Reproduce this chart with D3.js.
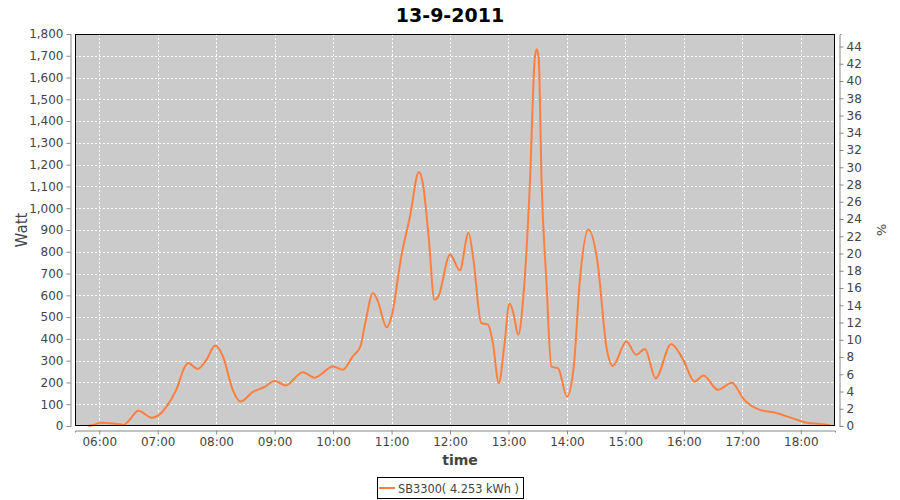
<!DOCTYPE html>
<html><head><meta charset="utf-8">
<script src="https://cdn.jsdelivr.net/npm/d3@7"></script>
<style>body{margin:0;background:#fff}svg{display:block}</style>
</head><body><svg id="c" width="900" height="500"></svg>
<script>
const times = ["05:49","05:55","06:01","06:14","06:25","06:31","06:40","06:54","07:01","07:09","07:19","07:28","07:31","07:41","07:50","07:59","08:07","08:17","08:25","08:38","08:49","09:00","09:11","09:29","09:41","10:00","10:10","10:20","10:28","10:33","10:41","10:46","10:55","11:00","11:10","11:19","11:28","11:32","11:38","11:44","11:48","12:00","12:10","12:19","12:24","12:32","12:39","12:44","12:50","12:56","13:01","13:05","13:10","13:15","13:22","13:27","13:29","13:31","13:34","13:39","13:44","13:51","14:00","14:07","14:13","14:22","14:31","14:41","14:47","15:01","15:11","15:20","15:31","15:47","15:59","16:11","16:20","16:35","16:49","17:02","17:18","17:32","17:52","18:06","18:20","18:30"];
const watts = [0,6,15,12,5,28,70,38,50,89,166,273,289,262,304,370,319,166,112,158,178,207,186,247,222,273,258,319,365,473,611,572,453,503,779,964,1166,1117,872,580,595,787,715,887,764,473,465,381,197,381,562,519,419,580,1117,1690,1730,1690,1117,657,273,265,135,273,657,902,764,350,276,388,327,354,219,377,307,204,232,166,199,120,74,63,35,15,9,3];
const leftTicks = [0,100,200,300,400,500,600,700,800,900,1000,1100,1200,1300,1400,1500,1600,1700,1800];
const rightTicks = [0,2,4,6,8,10,12,14,16,18,20,22,24,26,28,30,32,34,36,38,40,42,44];
const hourTicks = ["06:00","07:00","08:00","09:00","10:00","11:00","12:00","13:00","14:00","15:00","16:00","17:00","18:00"];
const title = "13-9-2011";
const seriesName = "SB3300( 4.253 kWh )";

const toH = s => { const [h,m] = s.split(":").map(Number); return h + m/60; };
const data = times.map((t,i)=>({x:toH(t), y:watts[i]}));

const L=75, R=835, T=34, B=426;
const svg = d3.select("#c");
const font = "'DejaVu Sans', sans-serif";
const x = d3.scaleLinear().domain([5.585, 18.585]).range([L, R]);
const y = d3.scaleLinear().domain([0, 1800]).range([B, T]);
const y2 = d3.scaleLinear().domain([0, 45.45]).range([B, T]);

svg.append("text").attr("x",450).attr("y",22).attr("text-anchor","middle")
  .attr("font-family",font).attr("font-weight","bold").attr("font-size",19).attr("fill","#000").text(title);

svg.append("rect").attr("x",L).attr("y",T).attr("width",R-L).attr("height",B-T).attr("fill","#cbcbcb");

const g = svg.append("g");
g.selectAll(".hg").data(leftTicks.slice(1)).join("line")
  .attr("x1",L).attr("x2",R).attr("y1",d=>Math.round(y(d))+0.5).attr("y2",d=>Math.round(y(d))+0.5)
  .attr("stroke","#fff").attr("stroke-dasharray","2,2").attr("stroke-width",1);
g.selectAll(".vg").data(hourTicks).join("line")
  .attr("y1",T).attr("y2",B).attr("x1",d=>Math.round(x(toH(d)))+0.5).attr("x2",d=>Math.round(x(toH(d)))+0.5)
  .attr("stroke","#fff").attr("stroke-dasharray","2,2").attr("stroke-width",1);

const line = d3.line().x(d=>x(d.x)).y(d=>y(d.y)).curve(d3.curveMonotoneX);
svg.append("path").datum(data).attr("d",line).attr("fill","none").attr("stroke","#ff7f3f").attr("stroke-width",2);

svg.append("rect").attr("x",L+0.5).attr("y",T+0.5).attr("width",R-L-1).attr("height",B-T-1)
  .attr("fill","none").attr("stroke","#000").attr("stroke-width",1);

const styleAxis = (sel) => {
  sel.selectAll("path").attr("stroke","#888");
  sel.selectAll("line").attr("stroke","#888");
  sel.selectAll("text").attr("font-family",font).attr("font-size",12).attr("fill","#444");
};
const ax = svg.append("g").attr("transform",`translate(${L-4.5},0)`)
  .call(d3.axisLeft(y).tickValues(leftTicks).tickFormat(d3.format(",")).tickSize(4).tickSizeOuter(2).tickPadding(3));
styleAxis(ax);
const ax2 = svg.append("g").attr("transform",`translate(${R+4.5},0)`)
  .call(d3.axisRight(y2).tickValues(rightTicks).tickFormat(d3.format("d")).tickSize(4).tickSizeOuter(2).tickPadding(3));
styleAxis(ax2);
const axx = svg.append("g").attr("transform",`translate(0,${B+4.5})`)
  .call(d3.axisBottom(x).tickValues(hourTicks.map(toH)).tickFormat((d,i)=>hourTicks[i]).tickSize(4).tickSizeOuter(2).tickPadding(3));
styleAxis(axx);

svg.append("text").attr("transform","translate(27,230) rotate(-90)").attr("text-anchor","middle")
  .attr("font-family",font).attr("font-size",15).attr("fill","#444").text("Watt");
svg.append("text").attr("transform","translate(877,230) rotate(90)").attr("text-anchor","middle")
  .attr("font-family",font).attr("font-size",13).attr("fill","#444").text("%");
svg.append("text").attr("x",460).attr("y",465).attr("text-anchor","middle")
  .attr("font-family",font).attr("font-weight","bold").attr("font-size",14).attr("fill","#444").text("time");

const lg = svg.append("g");
lg.append("rect").attr("x",377.5).attr("y",477.5).attr("width",146).attr("height",21).attr("fill","#fff").attr("stroke","#000");
lg.append("line").attr("x1",379).attr("x2",395).attr("y1",488).attr("y2",488).attr("stroke","#ff7f3f").attr("stroke-width",2);
lg.append("text").attr("x",398).attr("y",493).attr("font-family",font).attr("font-size",11.5)
  .attr("textLength",121).attr("lengthAdjust","spacingAndGlyphs").attr("fill","#444").text(seriesName);
</script></body></html>
